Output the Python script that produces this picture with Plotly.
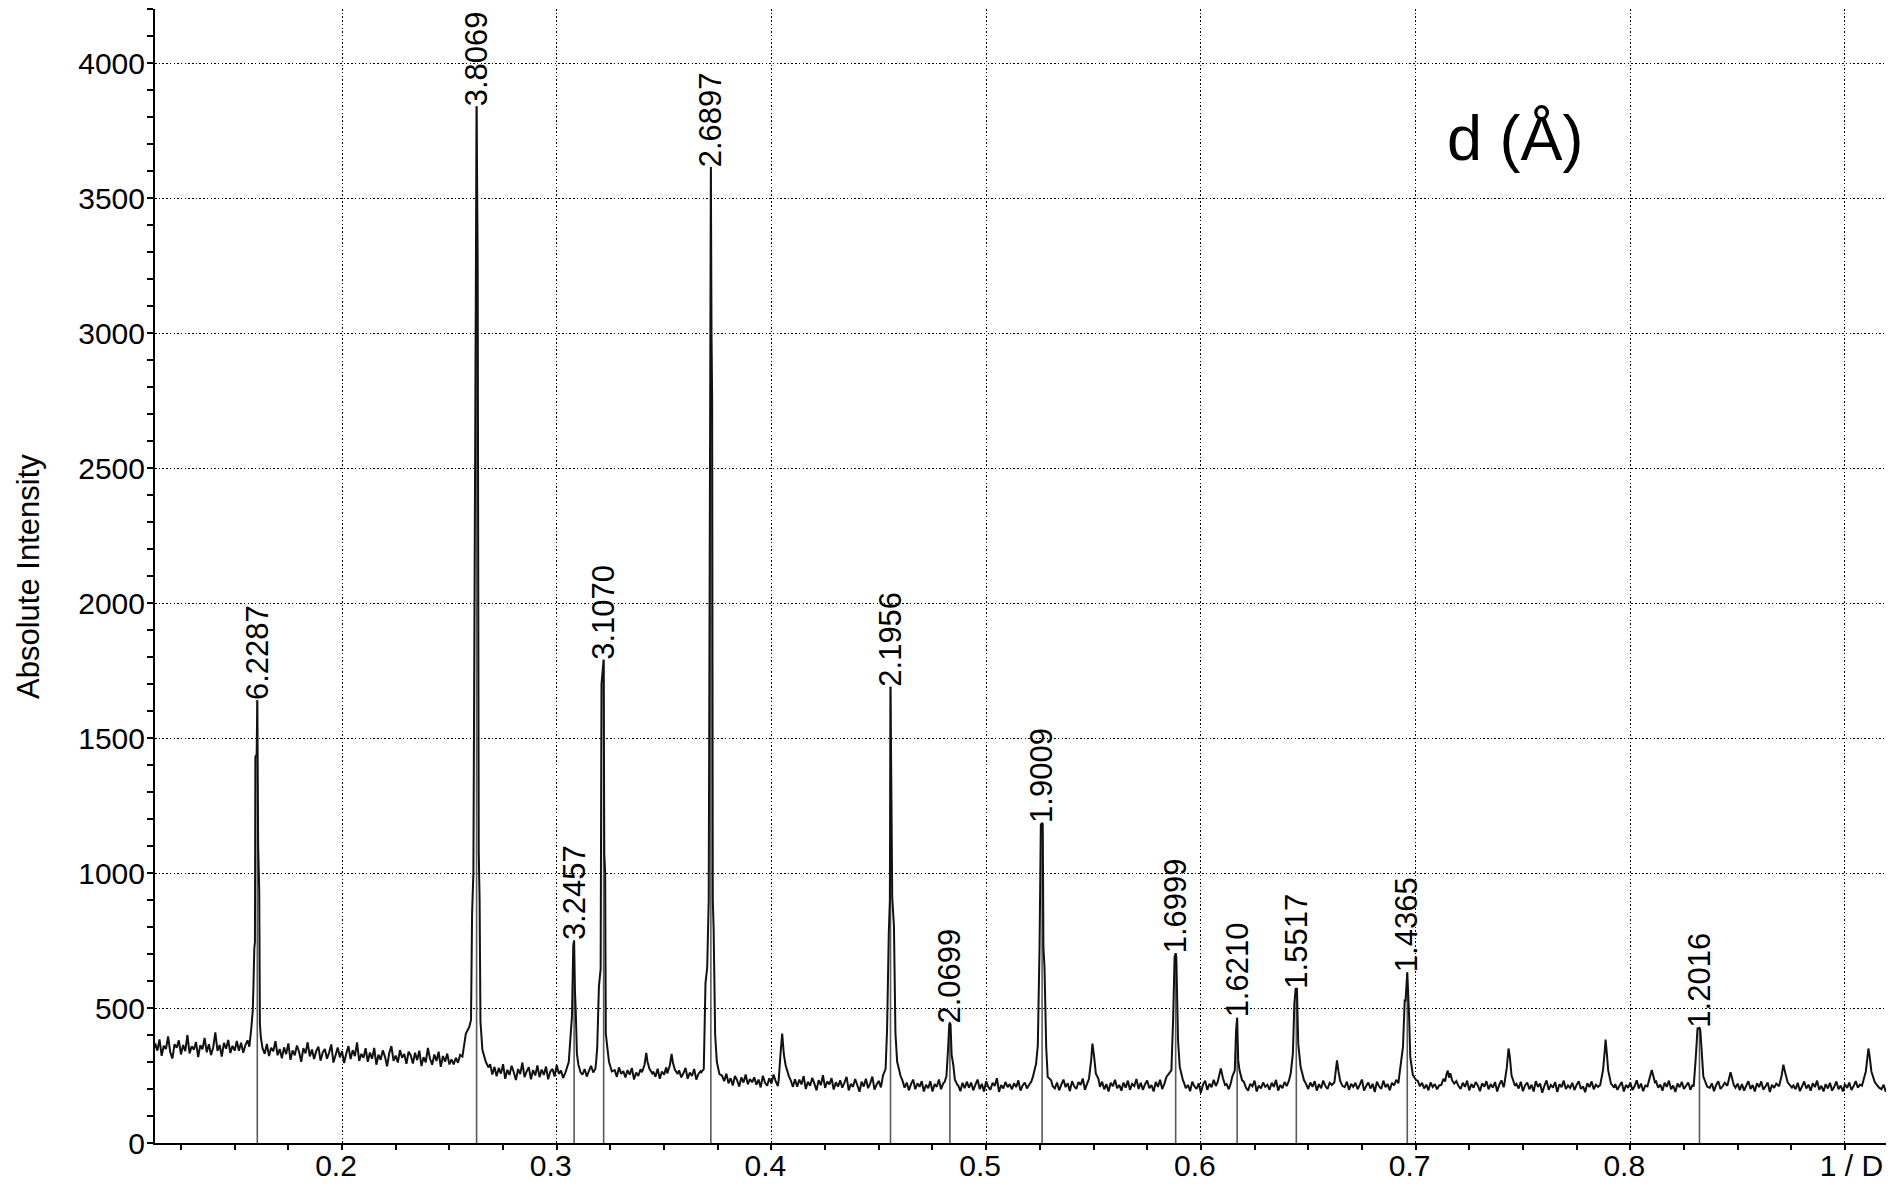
import plotly.graph_objects as go

N = None

# ---------------- background scan (1/d sampled every 0.001 from 0.112) ----------------
BG_X0 = 0.112
BG_STEP = 0.001
background = [
    # 0.112 - 0.131
    331, 369, 342, 384, 323, 360, 348, 395, 336, 313, 366, 353, 380, 328, 363, 340, 400, 332, 358, 345,
    # 0.132 - 0.151
    374, 318, 362, 347, 389, 336, 366, 326, 354, 410, 341, 363, 320, 371, 349, 382, 333, 360, 342, 378,
    # 0.152 - 0.171
    342, 371, 334, 363, 380, N, N, N, N, N, N, N, 330, 367, 322, 353, 340, 377, 325, 348,
    # 0.172 - 0.191
    314, 354, 329, 369, 308, 343, 325, 361, 338, 301, 351, 332, 373, 321, 346, 311, 340, 357, 305, 335,
    # 0.192 - 0.211
    348, 312, 335, 365, 298, 325, 354, 317, 340, 296, 332, 359, 311, 344, 322, 373, 304, 330, 316, 351,
    # 0.212 - 0.231
    301, 335, 312, 352, 290, 327, 308, 343, 320, 284, 333, 359, 304, 324, 298, 344, 316, 330, 293, 338,
    # 0.232 - 0.251
    325, 294, 334, 307, 342, 285, 318, 299, 352, 312, 290, 328, 304, 338, 282, 322, 301, 331, 291, 310,
    # 0.252 - 0.271
    291, 316, 297, 326, N, N, N, N, N, N, N, N, N, N, N, N, N, 292, 254, 282,
    # 0.272 - 0.291
    247, 278, 257, 292, 238, 271, 252, 286, 262, 233, 274, 255, 298, 244, 265, 281, 236, 270, 250, 287,
    # 0.292 - 0.311
    244, 272, 252, 283, 236, 264, 275, 246, 289, 256, 268, 241, N, N, N, N, N, N, N, N,
    # 0.312 - 0.331
    253, 274, 246, 267, 286, 261, 275, N, N, N, N, N, N, N, N, 270, 245, 280, 256, 266,
    # 0.332 - 0.351
    243, 270, 253, 278, 235, 261, 248, 273, N, N, N, N, N, 264, 245, 275, 238, 265, 253, 280,
    # 0.352 - 0.371
    N, N, N, N, N, 269, 243, 258, 278, 238, 261, 248, 274, 235, 256, 266, N, N, N, N,
    # 0.372 - 0.391
    N, N, N, N, N, 249, 229, 257, 221, 240, 213, 248, 233, 209, 243, 224, 254, 217, 237, 225,
    # 0.392 - 0.411
    243, 216, 235, 206, 249, 224, 212, 240, 220, 254, 228, 211, N, N, N, N, N, 232, 208, 236,
    # 0.412 - 0.431
    208, 235, 217, 248, 200, 227, 212, 241, 220, 195, 233, 214, 251, 204, 228, 217, 240, 198, 225, 209,
    # 0.432 - 0.451
    232, 205, 224, 245, 195, 219, 208, 237, 214, 190, 227, 209, 238, 203, 221, 246, 198, 217, 230, 206,
    # 0.452 - 0.471
    N, N, N, N, N, N, N, N, N, 232, 205, 224, 195, 218, 235, 199, 221, 208, 229, 191,
    # 0.472 - 0.491
    216, 203, 229, 191, 218, 208, 235, 199, 221, N, N, N, N, N, N, 213, 192, 223, 203, 227,
    # 0.492 - 0.511
    205, 224, 195, 216, 235, 200, 219, 191, 229, 208, 197, 223, 211, 240, 189, 215, 202, 226, 207, 218,
    # 0.512 - 0.531
    199, 221, 207, 232, 194, 213, 224, 202, 216, 227, N, N, N, N, N, N, N, N, N, 210,
    # 0.532 - 0.551
    202, 224, 195, 216, 235, 207, 221, 192, 229, 210, 200, 226, 215, 239, 197, 219, N, N, N, N,
    # 0.552 - 0.571
    N, 208, 227, 199, 218, 191, 223, 210, 234, 203, 215, 194, 224, 205, 231, 197, 219, 211, 237, 200,
    # 0.572 - 0.591
    223, 197, 218, 231, 203, 215, 191, 226, 208, 234, 200, 219, N, N, N, N, N, N, N, N,
    # 0.592 - 0.611
    226, 203, 215, 192, 227, 210, 200, 221, 186, 216, 231, 197, 219, 207, 234, 211, N, N, N, N,
    # 0.612 - 0.631
    218, 199, 223, N, N, N, N, N, 227, 205, 194, 219, 210, 231, 191, 213, 202, 224, 208, 216,
    # 0.632 - 0.651
    197, 223, 208, 234, 194, 215, 203, 226, 211, 231, N, N, N, N, N, N, N, 219, 200, 224,
    # 0.652 - 0.671
    208, 229, 194, 218, 203, 231, 211, 200, 223, 215, N, N, N, N, N, 207, 227, 197, 219, 208,
    # 0.672 - 0.691
    223, 199, 215, 235, 194, 211, 224, 202, 219, 189, 227, 210, 200, 231, 207, 218, 195, 223, 213, 234,
    # 0.692 - 0.711
    221, N, N, N, N, N, N, N, N, 231, 210, 223, 202, 216, 195, 224, 207, 218, 199, 213,
    # 0.712 - 0.731
    N, N, N, N, N, N, N, 229, 211, 200, 223, 208, 231, 195, 218, 205, 226, 213, 192, 221,
    # 0.732 - 0.751
    208, 229, 199, 218, 205, 226, 191, 216, 232, 207, N, N, N, N, N, 219, 202, 227, 192, 213,
    # 0.752 - 0.771
    224, 199, 216, 191, 229, 208, 220, 186, 212, 232, 197, 215, 205, 226, 189, 218, 207, 231, 200, 213,
    # 0.772 - 0.791
    204, 223, 196, 215, 229, 200, 210, 188, 221, 207, 228, 199, 216, 208, N, N, N, N, N, N,
    # 0.792 - 0.811
    N, 218, 197, 212, 226, 191, 215, 204, 224, 196, 210, 232, 202, 220, 192, 213, N, N, N, N,
    # 0.812 - 0.831
    228, 205, 216, 194, 223, 208, 231, 199, 213, 189, 220, 207, 226, 200, 212, 224, 197, 216, N, N,
    # 0.832 - 0.851
    N, N, N, N, N, 204, 221, 192, 215, 229, 200, 210, 223, N, N, N, N, 205, 220, 196,
    # 0.852 - 0.871
    218, 194, 212, 229, 200, 215, 191, 221, 207, 228, 197, 210, 224, 189, 216, 204, 220, N, N, N,
    # 0.872 - 0.891
    N, N, N, N, 213, 199, 223, 192, 210, 228, 202, 216, 194, 221, 207, 231, 197, 212, 191, 218,
    # 0.892 - 0.911
    202, 223, 194, 208, 228, 199, 213, 191, 218, 204, 224, 196, 210, 229, 205, 216, N, N, N, N,
    # 0.912 - 0.922
    N, N, N, N, 224, 199, 216, 190, 210, 229, 204,
]

# ---------------- labelled reflections ----------------
peak_labels = ["6.2287", "3.8069", "3.2457", "3.1070", "2.6897", "2.1956", "2.0699",
               "1.9009", "1.6999", "1.6210", "1.5517", "1.4365", "1.2016"]
peak_d = [6.2287, 3.8069, 3.2457, 3.1070, 2.6897, 2.1956, 2.0699,
          1.9009, 1.6999, 1.6210, 1.5517, 1.4365, 1.2016]
peak_top = [1640, 3840, 750, 1790, 3615, 1690, 444, 1184, 703, 464, 571, 632, 427]

# profile of each labelled peak: offsets in 1/d from the peak and intensities
peak_dx = [
    [-0.0037, -0.0028, -0.0021, -0.0018, -0.0014, -0.0011, -0.0009, -0.0003, 0, 0.0004, 0.0009, 0.0012, 0.0016, 0.0024],
    [-0.0066, -0.005, -0.0034, -0.0026, -0.0021, -0.0015, 0, 0.0005, 0.0010, 0.0014, 0.0018, 0.0027, 0.0043, 0.0055],
    [-0.004, -0.0025, -0.0018, -0.001, -0.0004, 0, 0.0004, 0.0008, 0.0013, 0.002, 0.003],
    [-0.0035, -0.003, -0.0022, -0.0014, -0.001, 0, 0.0003, 0.0007, 0.001, 0.0017, 0.0025, 0.0038],
    [-0.0045, -0.0033, -0.0025, -0.0017, -0.001, 0, 0.0003, 0.0006, 0.0009, 0.0013, 0.002, 0.0028, 0.004],
    [-0.0035, -0.0023, -0.0016, -0.0008, -0.0003, 0, 0.0008, 0.0016, 0.0023, 0.0031, 0.0047],
    [-0.0025, -0.0016, -0.0008, -0.0003, 0, 0.0003, 0.0008, 0.0016, 0.0023, 0.0035],
    [-0.0043, -0.0028, -0.002, -0.0012, -0.0006, 0, 0.0003, 0.0006, 0.0011, 0.0019, 0.0026, 0.0042],
    [-0.0043, -0.002, -0.0012, -0.0005, 0, 0.0003, 0.0011, 0.0019, 0.0034],
    [-0.0023, -0.0011, -0.0005, 0, 0.0005, 0.0011, 0.0023],
    [-0.0026, -0.0016, -0.0009, -0.0003, 0, 0.0003, 0.0009, 0.002, 0.0036],
    [-0.0036, -0.002, -0.0012, -0.0008, 0, 0.0008, 0.0014, 0.0026, 0.0042],
    [-0.0027, -0.0018, -0.0009, 0, 0.0004, 0.0011, 0.0018, 0.0036],
]
peak_dy = [
    [357, 425, 493, 580, 720, 745, 1430, 1440, 1640, 1100, 930, 445, 395, 352],
    [320, 405, 430, 456, 850, 1000, 3840, 3270, 1080, 900, 450, 345, 300, 280],
    [262, 300, 380, 470, 730, 750, 560, 480, 330, 290, 262],
    [300, 354, 580, 645, 1700, 1790, 1070, 1000, 407, 354, 301, 265],
    [262, 274, 592, 650, 900, 3615, 3000, 2750, 900, 790, 400, 300, 255],
    [250, 274, 420, 778, 897, 1690, 910, 804, 407, 301, 248],
    [225, 248, 354, 440, 444, 440, 327, 288, 235, 215],
    [245, 294, 362, 726, 1180, 1184, 1182, 726, 652, 356, 245, 232],
    [245, 269, 454, 690, 703, 689, 380, 282, 232],
    [245, 269, 417, 464, 306, 269, 232],
    [257, 331, 516, 571, 571, 571, 368, 282, 232],
    [257, 356, 528, 528, 632, 479, 319, 251, 232],
    [209, 307, 424, 427, 418, 332, 246, 209],
]

# ---------------- small unlabelled reflections ----------------
small_pos = [0.3417, 0.3535, 0.405, 0.5495, 0.6093, 0.6634, 0.715,
             0.7433, 0.7885, 0.81, 0.8467, 0.8713, 0.9109]
small_dx = [
    [-0.002, -0.0008, 0, 0.0006, 0.0015, 0.0028],
    [-0.002, -0.0008, 0, 0.0006, 0.0015, 0.0028],
    [-0.0016, -0.0008, 0, 0.0008, 0.0016, 0.0031],
    [-0.0016, -0.0006, 0, 0.0008, 0.0016, 0.0028],
    [-0.0015, 0, 0.001, 0.002],
    [-0.0012, 0, 0.0007, 0.0015, 0.0025],
    [-0.003, -0.002, -0.0012, -0.0006, 0, 0.0006, 0.0012, 0.002, 0.003],
    [-0.002, -0.0008, 0, 0.0006, 0.0014, 0.003],
    [-0.0025, -0.0012, -0.0004, 0, 0.0006, 0.0012, 0.0025, 0.004],
    [-0.002, 0, 0.0015],
    [-0.0015, 0, 0.0015],
    [-0.002, -0.0008, 0, 0.0008, 0.002, 0.004],
    [-0.003, -0.0012, -0.0004, 0, 0.0006, 0.0014, 0.003, 0.005],
]
small_dy = [
    [262, 290, 334, 300, 275, 258],
    [258, 288, 330, 298, 272, 256],
    [235, 327, 405, 327, 288, 248],
    [238, 306, 368, 319, 257, 238],
    [225, 276, 240, 215],
    [225, 306, 265, 230, 212],
    [215, 238, 228, 255, 268, 242, 258, 232, 220],
    [215, 280, 350, 320, 250, 212],
    [215, 270, 340, 383, 330, 270, 220, 205],
    [210, 270, 225],
    [212, 262, 215],
    [210, 250, 290, 262, 225, 205],
    [212, 265, 320, 350, 320, 265, 225, 205],
]

# ---------------- assemble the pattern ----------------
peak_pos = [1.0 / d for d in peak_d]
features = []
for c, dxs, dys in zip(peak_pos, peak_dx, peak_dy):
    features.append([(c + a, b) for a, b in zip(dxs, dys)])
for c, dxs, dys in zip(small_pos, small_dx, small_dy):
    features.append([(c + a, b) for a, b in zip(dxs, dys)])
windows = [(f[0][0] - 0.0002, f[-1][0] + 0.0002) for f in features]

points = []
for i, v in enumerate(background):
    if v is None:
        continue
    x = BG_X0 + i * BG_STEP
    if any(lo <= x <= hi for lo, hi in windows):
        continue
    points.append((x, v))
for f in features:
    points.extend(f)
points.sort(key=lambda p: p[0])
xs = [p[0] for p in points]
ys = [p[1] for p in points]

FONT = "Liberation Sans, Arial, Helvetica, sans-serif"

fig = go.Figure()

# drop lines at labelled reflections
lx, ly = [], []
for c, top in zip(peak_pos, peak_top):
    lx += [c, c, None]
    ly += [0, top, None]
fig.add_trace(go.Scatter(x=lx, y=ly, mode="lines",
                         line=dict(color="#5a5a5a", width=1.6),
                         hoverinfo="skip", showlegend=False))

fig.add_trace(go.Scatter(x=xs, y=ys, mode="lines",
                         line=dict(color="#111111", width=2, simplify=False),
                         showlegend=False))

for c, top, lab in zip(peak_pos, peak_top, peak_labels):
    fig.add_annotation(x=c, y=top, text=lab, textangle=-90, showarrow=False,
                       xanchor="center", yanchor="bottom", yshift=-2,
                       font=dict(family=FONT, size=31, color="black"))

fig.add_annotation(x=0.7466, y=3724, text="d (Å)", showarrow=False,
                   xanchor="center", yanchor="middle",
                   font=dict(family=FONT, size=63, color="black"))

fig.add_annotation(xref="paper", yref="paper", x=-0.0734, y=0.5,
                   text="Absolute Intensity", textangle=-90, showarrow=False,
                   xanchor="center", yanchor="middle",
                   font=dict(family=FONT, size=31, color="black"))

x_ticks = [0.2, 0.3, 0.4, 0.5, 0.6, 0.7, 0.8, 0.9]
x_ticktext = ["0.2", "0.3", "0.4", "0.5", "0.6", "0.7", "0.8", "\u00a0\u00a0\u00a01 / D"]
y_ticks = [0, 500, 1000, 1500, 2000, 2500, 3000, 3500, 4000]

fig.update_xaxes(
    range=[0.1129, 0.9191], tickmode="array", tickvals=x_ticks, ticktext=x_ticktext,
    ticks="outside", ticklen=5, tickcolor="black", tickwidth=1.5,
    showline=True, linecolor="black", linewidth=2, mirror=False,
    showgrid=True, gridcolor="black", gridwidth=1.3, griddash="1.5px,2.2px",
    zeroline=False, tickfont=dict(family=FONT, size=30, color="black"),
    ticklabelshift=-6, ticklabelstandoff=-10, automargin=False,
    minor=dict(tickmode="linear", tick0=0, dtick=0.025, ticks="outside", ticklen=5,
               tickcolor="black", tickwidth=1.5, showgrid=False),
)
fig.update_yaxes(
    range=[0, 4200], tickmode="array", tickvals=y_ticks,
    ticks="outside", ticklen=6, tickcolor="black", tickwidth=1.5,
    showline=True, linecolor="black", linewidth=2,
    showgrid=True, gridcolor="black", gridwidth=1.3, griddash="1.5px,2.2px",
    zeroline=False, tickfont=dict(family=FONT, size=30, color="black"),
    ticklabelstandoff=-4, automargin=False,
    minor=dict(tickmode="linear", tick0=0, dtick=100, ticks="outside", ticklen=6,
               tickcolor="black", tickwidth=1.5, showgrid=False),
)

# the page body keeps its default 8 px margin, so the figure is 16 px smaller
fig.update_layout(
    width=1888, height=1173,
    margin=dict(l=147, r=10, t=1, b=38, autoexpand=False),
    paper_bgcolor="white", plot_bgcolor="white",
    showlegend=False,
    font=dict(family=FONT, color="black"),
)

fig.write_html("out.html")
